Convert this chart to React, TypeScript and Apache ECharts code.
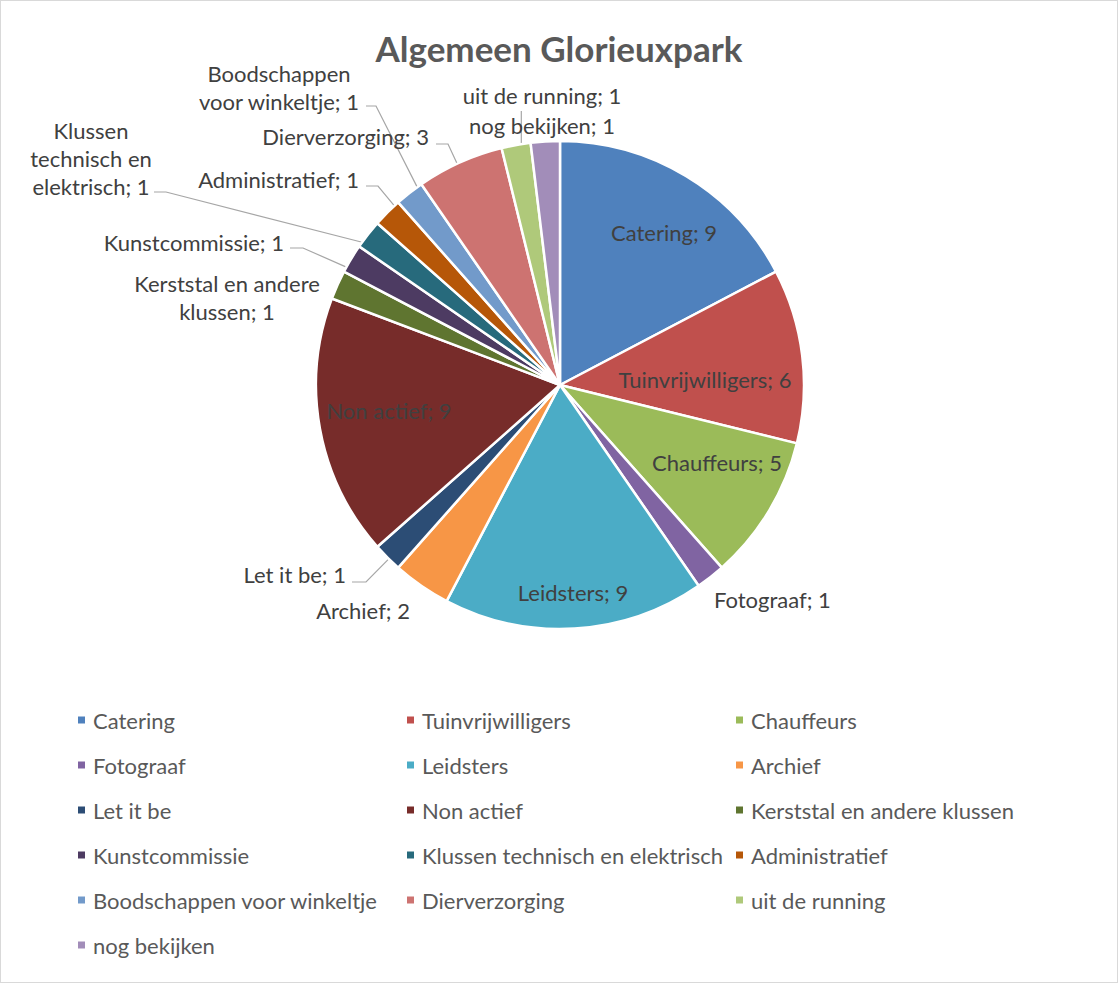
import React, { useEffect, useRef } from "react";
import * as echarts from "echarts";

const chartTitle = "Algemeen Glorieuxpark";
const categories = [
  "Catering",
  "Tuinvrijwilligers",
  "Chauffeurs",
  "Fotograaf",
  "Leidsters",
  "Archief",
  "Let it be",
  "Non actief",
  "Kerststal en andere klussen",
  "Kunstcommissie",
  "Klussen technisch en elektrisch",
  "Administratief",
  "Boodschappen voor winkeltje",
  "Dierverzorging",
  "uit de running",
  "nog bekijken",
];
const values = [9, 6, 5, 1, 9, 2, 1, 9, 1, 1, 1, 1, 1, 3, 1, 1];
const colors = [
  "#4F81BD", "#C0504D", "#9BBB59", "#8064A2", "#4BACC6", "#F79646",
  "#2C4D75", "#772C2A", "#5F7530", "#4D3B62", "#276A7C", "#B65708",
  "#729ACA", "#CD7371", "#AFC97A", "#A28DB9",
];
const wrappedNames: Record<string, string> = {
  "Kerststal en andere klussen": "Kerststal en andere\nklussen",
  "Klussen technisch en elektrisch": "Klussen\ntechnisch en\nelektrisch",
  "Boodschappen voor winkeltje": "Boodschappen\nvoor winkeltje",
};
const legendColumns = [
  ["Catering", "Fotograaf", "Let it be", "Kunstcommissie", "Boodschappen voor winkeltje", "nog bekijken"],
  ["Tuinvrijwilligers", "Leidsters", "Non actief", "Klussen technisch en elektrisch", "Dierverzorging"],
  ["Chauffeurs", "Archief", "Kerststal en andere klussen", "Administratief", "uit de running"],
];

// ---- layout (positions only) ----
const CX = 559;
const CY = 384;
const R = 244;
const FONT = "Lato, 'Open Sans', sans-serif";

type Spot = {
  x: number;
  y: number;
  align: "left" | "right" | "center";
  line?: number[][]; // label-side points of the leader line (start, elbow)
  vertical?: number; // leader goes straight up to this y
};
const labelSpots: Record<string, Spot> = {
  Catering: { x: 663, y: 231, align: "center" },
  Tuinvrijwilligers: { x: 704, y: 378, align: "center" },
  Chauffeurs: { x: 716, y: 461, align: "center" },
  Fotograaf: { x: 713, y: 598, align: "left" },
  Leidsters: { x: 572, y: 591, align: "center" },
  Archief: { x: 409, y: 609, align: "right" },
  "Let it be": { x: 345, y: 573, align: "right", line: [[351, 581], [365, 581]] },
  "Non actief": { x: 388, y: 409, align: "center" },
  "Kerststal en andere klussen": { x: 226, y: 296, align: "center" },
  Kunstcommissie: { x: 283, y: 241, align: "right", line: [[289, 247], [302, 247]] },
  "Klussen technisch en elektrisch": { x: 90, y: 157, align: "center", line: [[153, 191], [165, 191]] },
  Administratief: { x: 358, y: 178, align: "right", line: [[365, 185], [377, 185]] },
  "Boodschappen voor winkeltje": { x: 278, y: 86, align: "center", line: [[365, 105], [375, 105]] },
  Dierverzorging: { x: 428, y: 135, align: "right", line: [[435, 143], [447, 143]] },
  "uit de running": { x: 541, y: 94, align: "center", vertical: 110 },
  "nog bekijken": { x: 541, y: 124, align: "center" },
};

const total = values.reduce((a, b) => a + b, 0);

function anchorFor(index: number, toward: number[]): number[] {
  let cum = 0;
  for (let i = 0; i < index; i++) cum += values[i];
  const a0 = (cum / total) * 360;
  const a1 = ((cum + values[index]) / total) * 360;
  let th = (Math.atan2(toward[0] - CX, -(toward[1] - CY)) * 180) / Math.PI;
  if (th < 0) th += 360;
  const inset = 1.2;
  th = Math.min(Math.max(th, a0 + inset), a1 - inset);
  const rad = (th * Math.PI) / 180;
  return [CX + R * Math.sin(rad), CY - R * Math.cos(rad)];
}

export default function App() {
  const ref = useRef<HTMLDivElement>(null);

  useEffect(() => {
    if (!ref.current) return;
    const chart = echarts.init(ref.current, null, { renderer: "svg" });

    const data = categories.map((name, i) => {
      const spot = labelSpots[name];
      const hasLine = !!(spot && (spot.line || spot.vertical != null));
      return {
        name,
        value: values[i],
        itemStyle: { color: colors[i] },
        labelLine: { show: hasLine },
      };
    });

    const legends = legendColumns.map((col, c) => ({
      data: col,
      orient: "vertical" as const,
      left: [77, 406, 735][c],
      top: 708,
      padding: 0,
      itemWidth: 7,
      itemHeight: 7,
      itemGap: 23,
      icon: "rect",
      selectedMode: false,
      itemStyle: { borderWidth: 0 },
      textStyle: {
        fontFamily: FONT,
        fontSize: 22,
        color: "#595959",
        padding: [0, 0, 0, 3],
      },
    }));

    chart.setOption({
      animation: false,
      backgroundColor: "#ffffff",
      title: {
        text: chartTitle,
        left: "center",
        top: 24,
        textStyle: {
          fontFamily: FONT,
          fontSize: 35,
          fontWeight: "bold",
          color: "#595959",
        },
      },
      legend: legends,
      series: [
        {
          type: "pie",
          center: [CX, CY],
          radius: R,
          startAngle: 90,
          clockwise: true,
          avoidLabelOverlap: false,
          emphasis: { disabled: true },
          itemStyle: { borderColor: "#ffffff", borderWidth: 2.5 },
          label: {
            show: true,
            position: "outside",
            fontFamily: FONT,
            fontSize: 22,
            lineHeight: 28,
            color: "#404040",
            formatter: (p: any) => `${wrappedNames[p.name] ?? p.name}; ${p.value}`,
          },
          labelLine: {
            lineStyle: { color: "#a6a6a6", width: 1.2 },
          },
          labelLayout: (params: any) => {
            const name = categories[params.dataIndex];
            const spot = labelSpots[name];
            if (!spot) return {};
            const out: any = {
              x: spot.x,
              y: spot.y,
              align: spot.align,
              verticalAlign: "middle",
            };
            if (spot.line) {
              const elbow = spot.line[spot.line.length - 1];
              const a = anchorFor(params.dataIndex, elbow);
              out.labelLinePoints = [a, elbow, spot.line[0]];
            } else if (spot.vertical != null) {
              const a = anchorFor(params.dataIndex, [spot.x - 26, spot.vertical]);
              out.labelLinePoints = [a, [a[0], spot.vertical]];
            }
            return out;
          },
          data,
        },
      ],
    });

    return () => chart.dispose();
  }, []);

  return (
    <div
      ref={ref}
      style={{
        position: "fixed",
        left: 0,
        top: 0,
        width: 1118,
        height: 983,
        boxSizing: "border-box",
        border: "1px solid #d9d9d9",
        background: "#fff",
      }}
    />
  );
}
